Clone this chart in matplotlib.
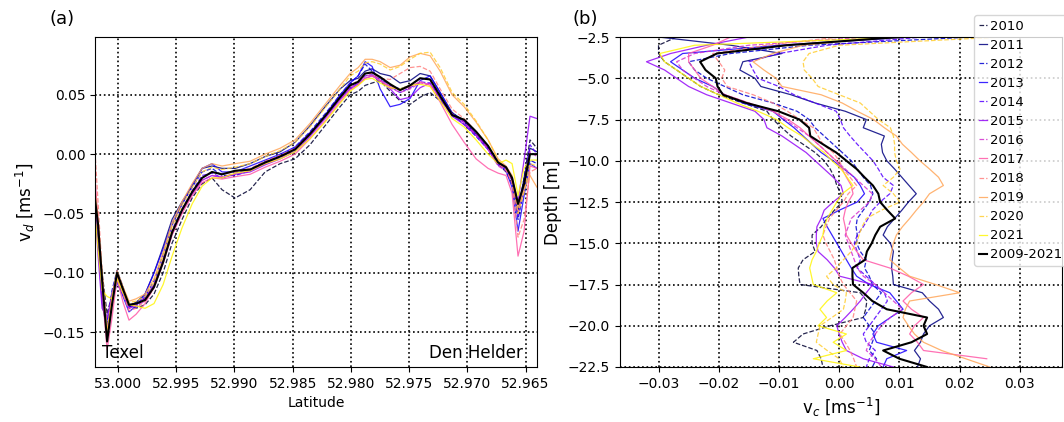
import numpy as np
import matplotlib
matplotlib.use("Agg")
import matplotlib.pyplot as plt

years = ["2010", "2011", "2012", "2013", "2014", "2015", "2016",
         "2017", "2018", "2019", "2020", "2021"]

# ---- panel (a): depth averaged velocity along the transect ----
lat = [53.00198, 53.00172, 53.00137, 53.00094, 53.00052, 53.00009, 52.99957,
       52.99906, 52.99845, 52.99768, 52.99691, 52.99613, 52.99536, 52.99450,
       52.99364, 52.99278, 52.99193, 52.99107, 52.98995, 52.98866, 52.98737,
       52.98608, 52.98480, 52.98351, 52.98222, 52.98093, 52.98007, 52.97938,
       52.97878, 52.97818, 52.97749, 52.97663, 52.97578, 52.97492, 52.97406,
       52.97320, 52.97234, 52.97131, 52.97028, 52.96925, 52.96822, 52.96736,
       52.96668, 52.96616, 52.96565, 52.96513, 52.96462, 52.96402]

vd_2010 = [-0.030, -0.060, -0.100, -0.135, -0.118, -0.104, -0.118, -0.128, -0.130, -0.127,
           -0.118, -0.100, -0.075, -0.055, -0.037, -0.025, -0.020, -0.030, -0.037, -0.030,
           -0.015, -0.008, -0.004, 0.008, 0.024, 0.040, 0.050, 0.053, 0.058, 0.060,
           0.062, 0.053, 0.045, 0.042, 0.048, 0.052, 0.045, 0.035, 0.027, 0.016,
           0.005, -0.008, -0.015, -0.025, -0.050, -0.020, 0.012, 0.005]
vd_2011 = [-0.045, -0.075, -0.125, -0.150, -0.120, -0.102, -0.115, -0.128, -0.125, -0.118,
           -0.100, -0.078, -0.055, -0.040, -0.027, -0.012, -0.010, -0.012, -0.012, -0.008,
           -0.002, 0.002, 0.010, 0.024, 0.040, 0.055, 0.062, 0.064, 0.070, 0.072,
           0.068, 0.066, 0.060, 0.062, 0.068, 0.066, 0.052, 0.035, 0.028, 0.017,
           0.005, -0.008, -0.012, -0.022, -0.048, -0.020, 0.005, 0.002]
vd_2012 = [-0.040, -0.062, -0.110, -0.145, -0.115, -0.098, -0.112, -0.128, -0.130, -0.120,
           -0.107, -0.084, -0.060, -0.042, -0.028, -0.015, -0.012, -0.018, -0.018, -0.014,
           -0.008, -0.002, 0.006, 0.019, 0.034, 0.050, 0.060, 0.066, 0.076, 0.070,
           0.064, 0.058, 0.055, 0.058, 0.064, 0.063, 0.050, 0.034, 0.025, 0.015,
           0.004, -0.009, -0.012, -0.022, -0.055, -0.030, -0.005, -0.008]
vd_2013 = [-0.035, -0.070, -0.120, -0.140, -0.125, -0.108, -0.120, -0.133, -0.128, -0.118,
           -0.100, -0.080, -0.058, -0.042, -0.026, -0.012, -0.008, -0.015, -0.015, -0.010,
           -0.005, 0.000, 0.006, 0.018, 0.033, 0.050, 0.060, 0.066, 0.078, 0.074,
           0.055, 0.040, 0.042, 0.047, 0.062, 0.066, 0.052, 0.034, 0.028, 0.016,
           0.005, -0.008, -0.014, -0.028, -0.065, -0.035, -0.008, -0.012]
vd_2014 = [-0.040, -0.065, -0.115, -0.150, -0.122, -0.100, -0.116, -0.130, -0.126, -0.122,
           -0.110, -0.088, -0.064, -0.046, -0.031, -0.018, -0.016, -0.020, -0.016, -0.013,
           -0.006, -0.001, 0.005, 0.018, 0.032, 0.047, 0.056, 0.060, 0.066, 0.067,
           0.063, 0.057, 0.052, 0.056, 0.061, 0.060, 0.047, 0.032, 0.027, 0.017,
           0.006, -0.007, -0.012, -0.022, -0.052, -0.025, 0.008, 0.000]
vd_2015 = [-0.045, -0.085, -0.130, -0.138, -0.118, -0.103, -0.118, -0.130, -0.127, -0.121,
           -0.110, -0.090, -0.067, -0.048, -0.034, -0.022, -0.018, -0.020, -0.017, -0.015,
           -0.009, -0.004, 0.002, 0.015, 0.030, 0.046, 0.055, 0.059, 0.064, 0.066,
           0.062, 0.055, 0.046, 0.048, 0.056, 0.060, 0.047, 0.032, 0.025, 0.016,
           0.004, -0.009, -0.012, -0.021, -0.040, -0.005, 0.032, 0.030]
vd_2016 = [-0.030, -0.060, -0.110, -0.152, -0.125, -0.102, -0.117, -0.130, -0.128, -0.124,
           -0.113, -0.092, -0.068, -0.049, -0.033, -0.022, -0.018, -0.019, -0.017, -0.014,
           -0.008, -0.003, 0.003, 0.016, 0.031, 0.046, 0.056, 0.060, 0.066, 0.067,
           0.062, 0.056, 0.052, 0.055, 0.060, 0.059, 0.048, 0.034, 0.027, 0.016,
           0.004, -0.010, -0.014, -0.024, -0.050, -0.028, 0.002, -0.002]
vd_2017 = [-0.020, -0.055, -0.115, -0.165, -0.138, -0.105, -0.125, -0.140, -0.135, -0.126,
           -0.112, -0.092, -0.068, -0.050, -0.035, -0.024, -0.020, -0.021, -0.019, -0.017,
           -0.011, -0.006, 0.000, 0.013, 0.028, 0.044, 0.054, 0.058, 0.064, 0.066,
           0.062, 0.057, 0.054, 0.057, 0.061, 0.058, 0.044, 0.025, 0.010, -0.004,
           -0.012, -0.016, -0.018, -0.033, -0.086, -0.065, -0.010, -0.012]
vd_2018 = [0.002, -0.040, -0.100, -0.155, -0.130, -0.102, -0.118, -0.132, -0.130, -0.124,
           -0.112, -0.090, -0.066, -0.047, -0.032, -0.020, -0.015, -0.017, -0.015, -0.012,
           -0.006, -0.001, 0.005, 0.017, 0.032, 0.048, 0.058, 0.062, 0.068, 0.068,
           0.064, 0.063, 0.068, 0.073, 0.074, 0.070, 0.055, 0.038, 0.030, 0.019,
           0.006, -0.008, -0.013, -0.024, -0.070, -0.055, -0.015, -0.012]
vd_2019 = [-0.030, -0.055, -0.100, -0.148, -0.120, -0.098, -0.112, -0.124, -0.122, -0.118,
           -0.105, -0.083, -0.058, -0.040, -0.025, -0.012, -0.008, -0.010, -0.008, -0.006,
           0.000, 0.005, 0.012, 0.026, 0.042, 0.058, 0.068, 0.073, 0.080, 0.080,
           0.078, 0.073, 0.075, 0.082, 0.085, 0.083, 0.070, 0.050, 0.040, 0.027,
           0.012, -0.004, -0.010, -0.018, -0.045, -0.030, -0.018, -0.028]
vd_2020 = [-0.035, -0.060, -0.108, -0.150, -0.122, -0.100, -0.113, -0.125, -0.124, -0.120,
           -0.108, -0.086, -0.061, -0.043, -0.028, -0.015, -0.011, -0.013, -0.011, -0.008,
           -0.002, 0.003, 0.010, 0.023, 0.039, 0.055, 0.066, 0.070, 0.077, 0.078,
           0.076, 0.071, 0.074, 0.080, 0.085, 0.086, 0.073, 0.052, 0.042, 0.028,
           0.012, -0.005, -0.012, -0.020, -0.050, -0.032, -0.008, -0.010]
vd_2021 = [-0.050, -0.080, -0.115, -0.120, -0.122, -0.105, -0.117, -0.127, -0.128, -0.130,
           -0.126, -0.110, -0.086, -0.062, -0.042, -0.027, -0.020, -0.020, -0.016, -0.014,
           -0.008, -0.004, 0.002, 0.013, 0.027, 0.043, 0.053, 0.058, 0.063, 0.064,
           0.060, 0.056, 0.055, 0.058, 0.059, 0.057, 0.045, 0.030, 0.023, 0.012,
           0.000, -0.008, -0.005, -0.008, -0.035, -0.012, -0.005, -0.005]
vd_mean = [-0.038, -0.059, -0.106, -0.158, -0.127, -0.100, -0.114, -0.127, -0.126, -0.123,
           -0.112, -0.091, -0.066, -0.047, -0.032, -0.020, -0.015, -0.017, -0.014, -0.013,
           -0.007, -0.002, 0.004, 0.017, 0.032, 0.048, 0.058, 0.061, 0.068, 0.069,
           0.065, 0.059, 0.054, 0.058, 0.064, 0.063, 0.049, 0.033, 0.029, 0.019,
           0.007, -0.007, -0.011, -0.020, -0.042, -0.025, 0.000, 0.000]

# ---- panel (b): cross-channel velocity profiles ----
depth = [-2.5, -3.0, -3.5, -4.0, -4.5, -5.0, -5.5, -6.0, -6.5, -7.0, -7.5, -8.0, -8.5,
         -9.0, -9.5, -10.0, -10.5, -11.0, -11.5, -12.0, -12.5, -13.0, -13.5, -14.0,
         -14.5, -15.0, -15.5, -16.0, -16.5, -17.0, -17.5, -18.0, -18.5, -19.0, -19.5,
         -20.0, -20.5, -21.0, -21.5, -22.0, -22.5]

vc_2010 = [-0.027, -0.030, -0.030, -0.029, -0.027, -0.025, -0.023, -0.020, -0.016, -0.012,
           -0.011, -0.0095, -0.008, -0.006, -0.004, -0.0025, -0.0015, -0.0008, -0.0004, 0.0003,
           0.0005, -0.0008, -0.002, -0.003, -0.0045, -0.0045, -0.004, -0.006, -0.0068, -0.0067,
           -0.0065, 0.0035, 0.0046, 0.0044, 0.004, -0.0015, -0.006, -0.0076, -0.0037, -0.003,
           -0.0027]
vc_2011 = [-0.030, -0.018, -0.0095, -0.016, -0.0165, -0.014, -0.013, -0.008, -0.004, 0.001,
           0.0045, 0.004, 0.0075, 0.0070, 0.0072, 0.0079, 0.0092, 0.0104, 0.0116, 0.0128,
           0.0115, 0.0104, 0.0092, 0.0080, 0.0073, 0.0085, 0.0090, 0.0088, 0.0087, 0.0089,
           0.0090, 0.0138, 0.0150, 0.0165, 0.0173, 0.0150, 0.0140, 0.0135, 0.0125, 0.0135,
           0.0130]
vc_2012 = [0.022, -0.005, -0.018, -0.025, -0.024, -0.022, -0.019, -0.016, -0.011, -0.007,
           -0.005, -0.004, -0.0025, -0.001, 0.0005, 0.002, 0.003, 0.004, 0.0052, 0.0056,
           0.005, 0.004, 0.003, 0.0028, 0.003, 0.0029, 0.0035, 0.0045, 0.0042, 0.0050,
           0.0055, 0.0070, 0.0060, 0.0050, 0.0040, 0.0050, 0.0060, 0.0055, 0.0050, 0.0062,
           0.0055]
vc_2013 = [0.012, -0.010, -0.026, -0.028, -0.026, -0.024, -0.021, -0.019, -0.016, -0.011,
           -0.0093, -0.0075, -0.006, -0.0045, -0.003, -0.001, 0.0008, 0.0025, 0.0035, 0.0042,
           0.0030, 0.0000, -0.0027, -0.0020, -0.0012, -0.0004, 0.0004, 0.0012, 0.0020, 0.0029,
           0.0050, 0.0084, 0.0095, 0.0106, 0.0085, 0.0065, 0.0056, 0.0062, 0.0112, 0.0079,
           0.0073]
vc_2014 = [0.014, -0.002, -0.010, -0.0150, -0.0143, -0.0135, -0.0100, -0.0075, -0.004, -0.0005,
           0.0002, 0.0007, 0.0018, 0.0030, 0.0043, 0.0056, 0.0065, 0.0073, 0.0090, 0.0084,
           0.0068, 0.0055, 0.0048, 0.0040, 0.0030, 0.0025, 0.0030, 0.0035, 0.0030, 0.0045,
           0.0060, 0.0075, 0.0080, 0.0070, 0.0060, 0.0050, 0.0040, 0.0045, 0.0060, 0.0050,
           0.0045]
vc_2015 = [-0.015, -0.022, -0.028, -0.032, -0.029, -0.027, -0.025, -0.022, -0.018, -0.014,
           -0.0125, -0.012, -0.0095, -0.0075, -0.0055, -0.004, -0.0025, -0.001, 0.0003, 0.0007,
           -0.001, -0.0025, -0.0030, -0.0037, -0.0038, -0.0038, -0.0035, -0.0020, -0.0008, 0.0001,
           0.0056, 0.0045, 0.0035, 0.0023, 0.0010, -0.0004, 0.0000, 0.0005, 0.0012, 0.0040,
           0.0090]
vc_2016 = [0.005, -0.015, -0.024, -0.027, -0.026, -0.024, -0.022, -0.019, -0.015, -0.011,
           -0.009, -0.007, -0.005, -0.0035, -0.002, -0.0005, 0.0010, 0.0025, 0.0040, 0.0055,
           0.0050, 0.0035, 0.0020, 0.0015, 0.0010, 0.0015, 0.0020, 0.0025, 0.0030, 0.0040,
           0.0060, 0.0075, 0.0090, 0.0105, 0.0085, 0.0070, 0.0060, 0.0050, 0.0045, 0.0060,
           0.0070]
vc_2017 = [-0.018, -0.021, -0.025, -0.025, -0.024, -0.023, -0.021, -0.019, -0.015, -0.011,
           -0.0085, -0.0065, -0.005, -0.0035, -0.002, -0.0005, 0.0005, 0.0012, 0.0020, 0.0023,
           0.0015, 0.0010, 0.0007, 0.0010, 0.0012, 0.0020, 0.0029, 0.0040, 0.0084, 0.0115,
           0.0140, 0.0120, 0.0106, 0.0120, 0.0140, 0.0125, 0.0117, 0.0130, 0.0140, 0.0245,
           np.nan]
vc_2018 = [0.000, -0.012, -0.021, -0.020, -0.019, -0.0195, -0.0186, -0.0143, -0.011, -0.0086,
           -0.0065, -0.0043, -0.0035, -0.0027, -0.0010, 0.0000, 0.0007, 0.0018, 0.0029, 0.0015,
           0.0007, -0.0005, -0.0016, -0.0022, -0.0027, -0.0022, -0.0015, -0.0008, -0.0004, 0.0000,
           0.0007, 0.0018, 0.0029, 0.0026, 0.0023, 0.0012, 0.0001, 0.0010, 0.0018, 0.0024,
           0.0029]
vc_2019 = [0.008, -0.006, -0.011, -0.0143, -0.0125, -0.0105, -0.0095, -0.003, 0.0005, 0.0030,
           0.0057, 0.0075, 0.0095, 0.0105, 0.0120, 0.0134, 0.0150, 0.0165, 0.0173, 0.0150,
           0.0140, 0.0128, 0.0117, 0.0105, 0.0095, 0.0090, 0.0087, 0.0084, 0.0100, 0.0117,
           0.0160, 0.0200, 0.0117, 0.0110, 0.0106, 0.0115, 0.0125, 0.0140, 0.0170, 0.0210,
           0.0250]
vc_2020 = [0.027, 0.000, -0.0050, -0.0060, -0.0058, -0.0045, -0.0035, 0.0000, 0.0035, 0.0050,
           0.0065, 0.0085, 0.0090, 0.0092, 0.0092, 0.0095, 0.0101, 0.0090, 0.0073, 0.0090,
           0.0101, 0.0070, 0.0045, 0.0038, 0.0033, 0.0029, 0.0020, 0.0007, -0.0005, -0.0021,
           -0.0010, 0.0012, 0.0010, 0.0007, -0.0012, -0.0032, -0.0035, -0.0038, -0.0020, 0.0000,
           0.0007]
vc_2021 = [0.012, -0.024, -0.0298, -0.029, -0.027, -0.025, -0.0230, -0.0200, -0.017, -0.0135,
           -0.0104, -0.0085, -0.0062, -0.0045, -0.0025, -0.0012, 0.0003, 0.0013, 0.0023, 0.0005,
           -0.0004, -0.0012, -0.0020, -0.0025, -0.0027, -0.0033, -0.0038, -0.0045, -0.0049, -0.0046,
           -0.0043, -0.0004, -0.0020, -0.0032, -0.0021, -0.0035, 0.0012, -0.0010, 0.0012, -0.0043,
           0.0034]
vc_mean = [0.0100, -0.0087, -0.0203, -0.0231, -0.0222, -0.0205, -0.0202, -0.0193, -0.0154, -0.0101,
           -0.0066, -0.0050, -0.0048, -0.0027, -0.0005, 0.0012, 0.0029, 0.0042, 0.0056, 0.0065,
           0.0068, 0.0080, 0.0093, 0.0068, 0.0060, 0.0054, 0.0046, 0.0043, 0.0022, 0.0022,
           0.0023, 0.0040, 0.0055, 0.0079, 0.0146, 0.0140, 0.0146, 0.0120, 0.0073, 0.0100,
           0.0146]

vd_years = [vd_2010, vd_2011, vd_2012, vd_2013, vd_2014, vd_2015,
            vd_2016, vd_2017, vd_2018, vd_2019, vd_2020, vd_2021]
vc_years = [vc_2010, vc_2011, vc_2012, vc_2013, vc_2014, vc_2015,
            vc_2016, vc_2017, vc_2018, vc_2019, vc_2020, vc_2021]

colors = plt.cm.gnuplot2(np.linspace(0.05, 0.9, len(years)))
styles = ["--" if i % 2 == 0 else "-" for i in range(len(years))]

W, H = 1064, 422
fig = plt.figure(figsize=(W / 100, H / 100), dpi=100)
ax1 = fig.add_axes([95 / W, 55 / H, 442 / W, 330 / H])
ax2 = fig.add_axes([620 / W, 55 / H, 442 / W, 330 / H])

for i, yr in enumerate(years):
    ax1.plot(lat, vd_years[i], ls=styles[i], color=colors[i], lw=0.9, alpha=0.85)
    ax2.plot(vc_years[i], depth, ls=styles[i], color=colors[i], lw=0.9, alpha=0.85,
             label=yr)
ax1.plot(lat, vd_mean, color="k", lw=1.5)
ax2.plot(vc_mean, depth, color="k", lw=1.5, label="2009-2021")

# panel (a)
ax1.set_xlim(53.00198, 52.96402)
ax1.set_ylim(-0.1795, 0.0988)
ax1.set_xticks([53.000, 52.995, 52.990, 52.985, 52.980, 52.975, 52.970, 52.965])
ax1.set_xticklabels(["53.000", "52.995", "52.990", "52.985", "52.980",
                     "52.975", "52.970", "52.965"])
ax1.set_yticks([-0.15, -0.10, -0.05, 0.00, 0.05])
ax1.grid(True, ls=":", color="k", lw=1.2)
ax1.set_xlabel("Latitude", fontsize=10)
ax1.set_ylabel("v$_d$ [ms$^{-1}$]", fontsize=12)
ax1.text(0.016, 0.015, "Texel", transform=ax1.transAxes, fontsize=12,
         ha="left", va="bottom")
ax1.text(0.968, 0.015, "Den Helder", transform=ax1.transAxes, fontsize=12,
         ha="right", va="bottom")

# panel (b)
ax2.set_xlim(-0.0364, 0.0370)
ax2.set_ylim(-22.5, -2.5)
ax2.set_xticks([-0.03, -0.02, -0.01, 0.00, 0.01, 0.02, 0.03])
ax2.set_yticks(np.arange(-22.5, -2.4, 2.5))
ax2.grid(True, ls=":", color="k", lw=1.2)
ax2.set_xlabel("v$_c$ [ms$^{-1}$]", fontsize=12)
ax2.set_ylabel("Depth [m]", fontsize=12)
ax2.legend(loc="upper left", bbox_to_anchor=(974 / W, 1 - 15 / H),
           bbox_transform=fig.transFigure, borderaxespad=0, borderpad=0.35,
           handlelength=0.6, handletextpad=0.3, labelspacing=0.46,
           fontsize=9.5)

fig.text(62 / W, 1 - 19 / H, "(a)", fontsize=13, ha="center", va="center")
fig.text(585 / W, 1 - 19 / H, "(b)", fontsize=13, ha="center", va="center")

fig.savefig("out.png", dpi=100)
